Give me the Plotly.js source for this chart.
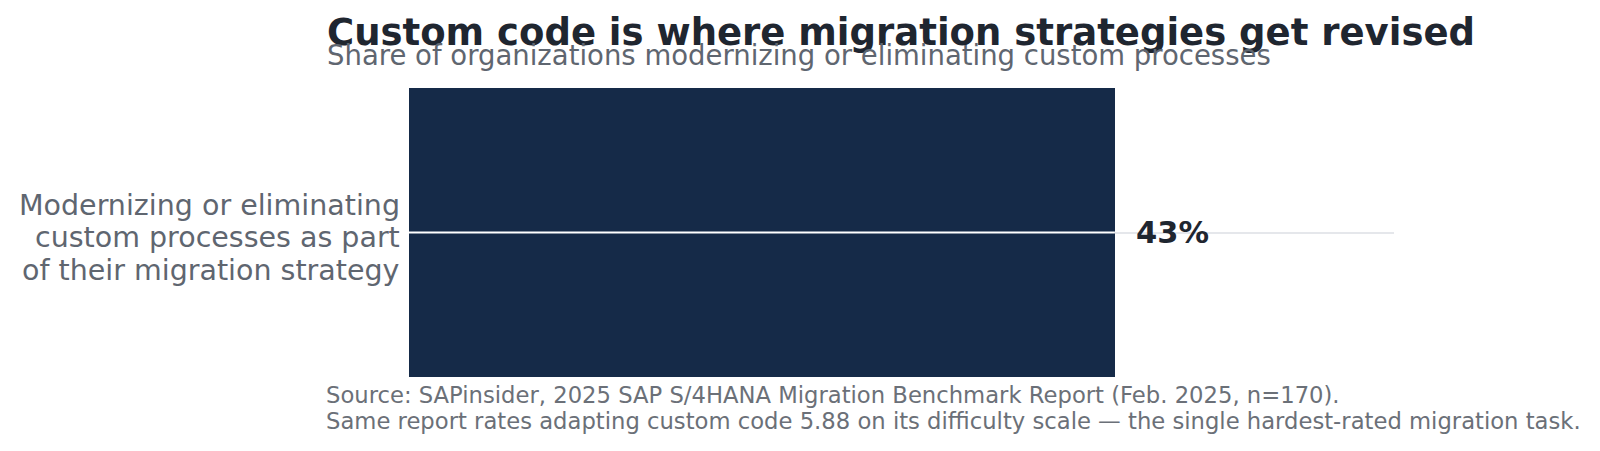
<!DOCTYPE html>
<html>
<head>
<meta charset="utf-8">
<script src="https://cdn.plot.ly/plotly-3.0.1.min.js"></script>
<style>
  html, body { margin: 0; padding: 0; background: #fff; overflow: hidden; }
  #plot { width: 1600px; height: 451px; }
</style>
</head>
<body>
<div id="plot"></div>
<script>
"use strict";

// Single finding from the SAPinsider benchmark
const categories = ["Modernizing or eliminating<br>custom processes as part<br>of their migration strategy"];
const shares = [43];
const axisMax = 60;

const titleText = "<b>Custom code is where migration strategies get revised</b>";
const subtitleText = "Share of organizations modernizing or eliminating custom processes";
const sourceLines = [
    "Source: SAPinsider, 2025 SAP S/4HANA Migration Benchmark Report (Feb. 2025, n=170).",
    "Same report rates adapting custom code 5.88 on its difficulty scale — the single hardest-rated migration task.",
];

const FONT = "DejaVu Sans, sans-serif";
const W = 1600, H = 451;
// plot box in pixels
const PL = 409, PR = 1394, PT = 88, PB = 377;
const TEXT_X = 325;
const px2x = p => (p - PL) / (PR - PL);
const py2y = p => (PB - p) / (PB - PT);

const trace = {
    type: "bar", orientation: "h",
    x: shares, y: categories,
    marker: { color: "#152a48", line: { width: 0 } },
    hoverinfo: "skip", showlegend: false,
};

// value label just past the bar end
const valueLabels = shares.map((v, i) => ({
    xref: "x", yref: "y", x: v, y: i,
    xanchor: "left", yanchor: "middle", xshift: 19,
    text: `<b>${v}%</b>`, showarrow: false,
    font: { family: FONT, size: 30.5, color: "#1f2630" },
}));

// category label, one line per annotation so the leading stays tight
const LABEL_LEAD = 32.5;
const categoryLabels = [];
categories.forEach((c, i) => {
    const lines = c.split("<br>");
    lines.forEach((ln, k) => {
        categoryLabels.push({
            text: ln, xref: "paper", yref: "y", x: 0, y: i,
            xanchor: "right", yanchor: "middle", align: "right",
            xshift: -7, yshift: -5 - (k - 1) * LABEL_LEAD, showarrow: false,
            font: { family: FONT, size: 28.5, color: "#5f6670" },
        });
    });
});

const headerNotes = [
    { text: titleText, xref: "paper", yref: "paper",
      x: px2x(TEXT_X), y: py2y(32.3),
      xanchor: "left", yanchor: "middle", showarrow: false,
      font: { family: FONT, size: 37, color: "#1f2630" } },
    { text: subtitleText, xref: "paper", yref: "paper",
      x: px2x(TEXT_X), y: py2y(55.5),
      xanchor: "left", yanchor: "middle", showarrow: false,
      font: { family: FONT, size: 27.5, color: "#5f6670" } },
];

// source lines, set one by one for tighter spacing
const sourceNotes = sourceLines.map((t, i) => ({
    text: t, xref: "paper", yref: "paper",
    x: px2x(TEXT_X - 1), y: py2y(395.3 + i * 26),
    xanchor: "left", yanchor: "middle", showarrow: false,
    font: { family: FONT, size: 22.7, color: "#6b7078" },
}));

// white rule across the bar, sitting on the category line
const barRules = shares.map((v, i) => ({
    type: "line", layer: "above",
    xref: "x", yref: "y", x0: 0, x1: v, y0: i, y1: i,
    line: { color: "#ffffff", width: 2 },
}));

const layout = {
    width: W, height: H,
    margin: { l: PL, r: W - PR, t: PT, b: H - PB },
    paper_bgcolor: "#ffffff", plot_bgcolor: "#ffffff",
    font: { family: FONT },
    bargap: 0,
    xaxis: {
        range: [0, axisMax], showgrid: false, zeroline: false,
        showticklabels: false, ticks: "", showline: false, fixedrange: true,
    },
    yaxis: {
        type: "category", range: [-0.5, 0.5], automargin: false,
        showgrid: true, gridcolor: "#e5e7eb", gridwidth: 2,
        showticklabels: false,
        ticks: "", ticklen: 0, showline: false, zeroline: false,
        fixedrange: true,
    },
    shapes: barRules,
    annotations: [...headerNotes, ...sourceNotes, ...categoryLabels, ...valueLabels],
    showlegend: false,
};

Plotly.newPlot("plot", [trace], layout, { displayModeBar: false, staticPlot: true });
</script>
</body>
</html>
